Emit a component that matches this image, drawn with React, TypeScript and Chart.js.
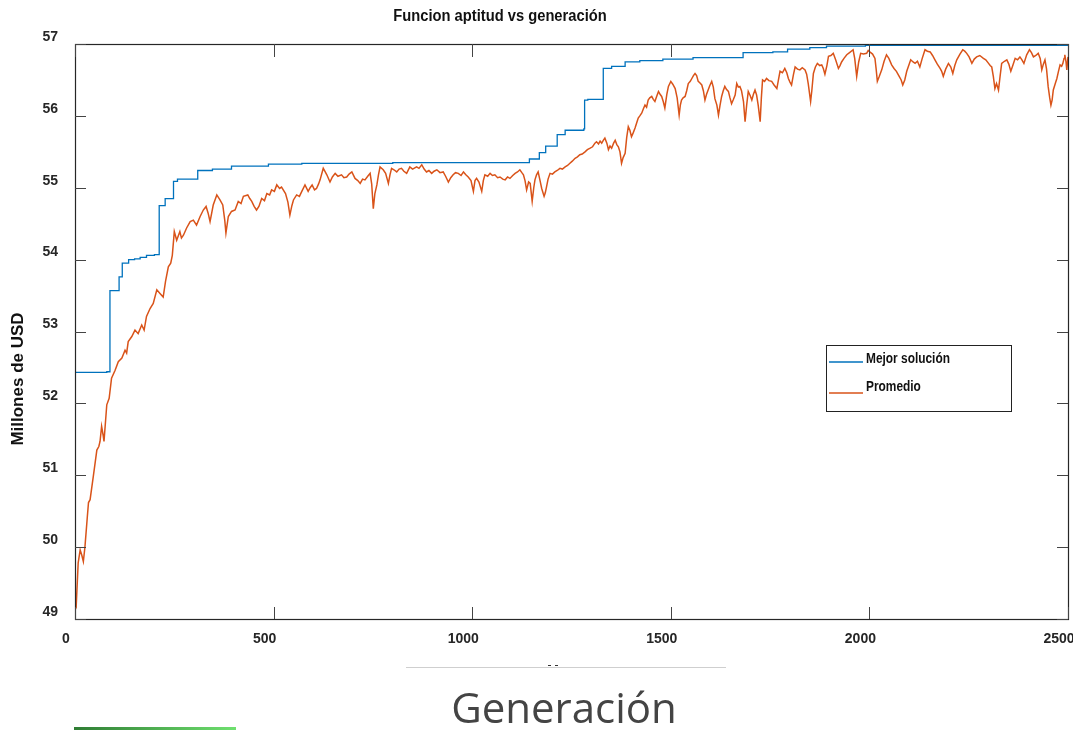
import { useEffect, useRef } from "react";
import { Chart, registerables } from "chart.js";

Chart.register(...registerables);

// ---- text ----
const chartTitle = "Funcion aptitud vs generación";
const yAxisTitle = "Millones de USD";
const xAxisTitle = "Generación";
const seriesNames = ["Mejor solución", "Promedio"];

// ---- axes ----
const xTicks = [0, 500, 1000, 1500, 2000, 2500];
const yTicks = [49, 50, 51, 52, 53, 54, 55, 56, 57];

// ---- best solution per generation: [generation where value changes, value] ----
const mejorSolucion: [number, number][] = [
  [0, 52.43], [40, 52.43], [80, 52.44], [88, 53.57], [111, 53.76], [119, 53.95],
  [135, 54.0], [150, 54.01], [164, 54.03], [180, 54.06], [200, 54.07],
  [212, 54.75], [227, 54.85], [248, 55.09], [258, 55.12], [309, 55.24],
  [346, 55.26], [394, 55.3], [487, 55.33], [571, 55.34], [800, 55.35],
  [1144, 55.4], [1169, 55.49], [1185, 55.58], [1214, 55.74], [1234, 55.8],
  [1281, 55.82], [1283, 56.22], [1291, 56.23], [1330, 56.66], [1351, 56.69],
  [1385, 56.75], [1422, 56.77], [1480, 56.79], [1556, 56.81], [1682, 56.88],
  [1757, 56.89], [1794, 56.93], [1850, 56.95], [1892, 56.97], [1990, 56.98],
  [2500, 56.98],
];

// ---- population average per generation: [generation, value] ----
const promedio: [number, number][] = [
  [0, 49.22], [3, 49.18], [8, 49.78], [13, 49.96], [17, 49.89], [21, 49.8],
  [25, 50.0], [31, 50.42], [34, 50.62], [38, 50.66], [46, 50.98], [55, 51.35],
  [60, 51.4], [63, 51.47], [67, 51.68], [71, 51.55], [73, 51.47], [80, 51.98],
  [86, 52.07], [92, 52.35], [101, 52.46], [109, 52.58], [118, 52.63], [126, 52.74],
  [130, 52.7], [134, 52.86], [143, 52.93], [151, 53.02], [159, 52.97], [168, 53.09],
  [174, 53.02], [180, 53.21], [189, 53.32], [197, 53.39], [206, 53.58], [214, 53.53],
  [222, 53.48], [228, 53.7], [235, 53.9], [241, 53.95], [245, 54.06], [250, 54.39],
  [256, 54.27], [264, 54.39], [268, 54.3], [273, 54.34], [281, 54.44], [290, 54.53],
  [298, 54.55], [306, 54.48], [315, 54.6], [323, 54.69], [330, 54.74], [335, 54.65],
  [340, 54.53], [348, 54.76], [357, 54.9], [365, 54.83], [372, 54.76], [377, 54.55],
  [380, 54.37], [386, 54.6], [394, 54.67], [403, 54.69], [411, 54.81], [418, 54.78],
  [424, 54.88], [435, 54.9], [440, 54.85], [445, 54.81], [451, 54.74], [457, 54.69],
  [463, 54.74], [470, 54.85], [477, 54.82], [483, 54.92], [490, 54.9], [495, 54.97],
  [502, 54.95], [508, 55.04], [515, 54.99], [520, 55.01], [530, 54.92], [536, 54.8],
  [541, 54.62], [546, 54.75], [550, 54.83], [558, 54.9], [565, 54.88], [571, 54.95],
  [579, 55.04], [587, 54.95], [592, 55.0], [597, 55.04], [603, 54.97], [608, 54.99],
  [613, 55.05], [617, 55.11], [625, 55.27], [630, 55.22], [634, 55.18], [642, 55.08],
  [648, 55.15], [655, 55.2], [662, 55.16], [671, 55.18], [677, 55.14], [684, 55.15],
  [690, 55.19], [697, 55.22], [705, 55.13], [712, 55.1], [718, 55.06], [724, 55.12],
  [730, 55.11], [737, 55.16], [743, 55.2], [747, 55.05], [751, 54.71], [755, 54.92],
  [760, 55.04], [764, 55.18], [768, 55.29], [776, 55.25], [782, 55.2], [789, 55.06],
  [793, 55.18], [797, 55.27], [803, 55.25], [810, 55.22], [816, 55.26], [822, 55.27],
  [828, 55.23], [835, 55.2], [843, 55.29], [850, 55.26], [860, 55.29], [866, 55.27],
  [873, 55.32], [879, 55.26], [885, 55.22], [891, 55.24], [898, 55.2], [904, 55.23],
  [911, 55.25], [919, 55.21], [927, 55.22], [933, 55.16], [940, 55.08], [946, 55.14],
  [952, 55.18], [958, 55.21], [965, 55.2], [972, 55.17], [978, 55.22], [984, 55.18],
  [990, 55.15], [997, 55.1], [1003, 54.95], [1007, 55.1], [1011, 55.13], [1017, 55.08],
  [1024, 54.95], [1028, 55.1], [1032, 55.18], [1039, 55.16], [1045, 55.2], [1051, 55.17],
  [1057, 55.18], [1064, 55.14], [1070, 55.15], [1077, 55.12], [1083, 55.11], [1089, 55.15],
  [1095, 55.13], [1102, 55.17], [1108, 55.2], [1114, 55.22], [1120, 55.25], [1125, 55.21],
  [1129, 55.18], [1133, 55.1], [1137, 54.97], [1142, 55.08], [1146, 55.06], [1151, 54.81],
  [1155, 55.0], [1158, 55.11], [1162, 55.18], [1166, 55.22], [1170, 55.12], [1175, 54.99],
  [1181, 54.88], [1184, 54.93], [1187, 55.01], [1191, 55.12], [1196, 55.2], [1202, 55.19],
  [1208, 55.22], [1214, 55.24], [1221, 55.27], [1227, 55.26], [1234, 55.29], [1240, 55.31],
  [1246, 55.34], [1252, 55.37], [1259, 55.41], [1265, 55.43], [1271, 55.46], [1277, 55.47],
  [1284, 55.5], [1290, 55.53], [1297, 55.55], [1303, 55.57], [1309, 55.62], [1313, 55.64],
  [1318, 55.61], [1322, 55.65], [1326, 55.62], [1330, 55.66], [1334, 55.69], [1339, 55.62],
  [1343, 55.53], [1347, 55.58], [1351, 55.55], [1356, 55.62], [1360, 55.66], [1364, 55.6],
  [1368, 55.57], [1372, 55.5], [1376, 55.34], [1380, 55.42], [1385, 55.48], [1389, 55.7],
  [1393, 55.85], [1397, 55.8], [1401, 55.71], [1405, 55.76], [1410, 55.83], [1414, 55.9],
  [1418, 55.97], [1422, 56.0], [1427, 56.04], [1431, 56.1], [1435, 56.15], [1439, 56.12],
  [1443, 56.22], [1447, 56.25], [1452, 56.27], [1456, 56.23], [1460, 56.2], [1465, 56.28],
  [1469, 56.34], [1473, 56.3], [1477, 56.27], [1481, 56.2], [1485, 56.11], [1490, 56.3],
  [1494, 56.41], [1500, 56.48], [1505, 56.44], [1511, 56.38], [1516, 56.25], [1521, 56.01],
  [1524, 56.15], [1527, 56.22], [1531, 56.25], [1536, 56.27], [1540, 56.35], [1544, 56.45],
  [1549, 56.48], [1553, 56.52], [1557, 56.56], [1561, 56.59], [1565, 56.56], [1569, 56.48],
  [1573, 56.46], [1578, 56.43], [1582, 56.35], [1586, 56.22], [1590, 56.3], [1594, 56.36],
  [1598, 56.42], [1603, 56.48], [1607, 56.4], [1611, 56.24], [1616, 56.15], [1620, 56.01],
  [1624, 56.15], [1628, 56.27], [1632, 56.35], [1636, 56.41], [1640, 56.37], [1645, 56.34],
  [1649, 56.25], [1653, 56.17], [1657, 56.22], [1662, 56.29], [1666, 56.45], [1670, 56.4],
  [1674, 56.41], [1678, 56.35], [1683, 56.2], [1687, 55.92], [1691, 56.15], [1695, 56.34],
  [1700, 56.28], [1704, 56.22], [1708, 56.3], [1712, 56.36], [1716, 56.29], [1720, 56.15],
  [1725, 55.92], [1728, 56.25], [1731, 56.5], [1736, 56.48], [1741, 56.52], [1747, 56.49],
  [1754, 56.48], [1760, 56.43], [1767, 56.38], [1771, 56.5], [1775, 56.62], [1781, 56.6],
  [1787, 56.66], [1792, 56.6], [1796, 56.52], [1800, 56.47], [1804, 56.43], [1809, 56.58],
  [1813, 56.68], [1819, 56.65], [1825, 56.64], [1831, 56.67], [1838, 56.64], [1842, 56.58],
  [1846, 56.45], [1852, 56.2], [1855, 56.35], [1859, 56.59], [1864, 56.68], [1869, 56.73],
  [1875, 56.7], [1880, 56.71], [1884, 56.66], [1888, 56.58], [1893, 56.7], [1897, 56.83],
  [1903, 56.84], [1909, 56.87], [1915, 56.78], [1922, 56.66], [1926, 56.7], [1930, 56.75],
  [1936, 56.8], [1943, 56.85], [1950, 56.88], [1959, 56.92], [1963, 56.8], [1968, 56.55],
  [1973, 56.75], [1978, 56.87], [1985, 56.86], [1993, 56.87], [1997, 56.91], [2001, 56.89],
  [2008, 56.86], [2014, 56.8], [2017, 56.65], [2020, 56.48], [2025, 56.55], [2031, 56.64],
  [2037, 56.76], [2043, 56.85], [2049, 56.8], [2056, 56.71], [2062, 56.66], [2068, 56.62],
  [2075, 56.55], [2080, 56.5], [2084, 56.43], [2089, 56.5], [2094, 56.62], [2099, 56.7],
  [2104, 56.78], [2110, 56.75], [2115, 56.73], [2121, 56.76], [2127, 56.68], [2133, 56.8],
  [2140, 56.92], [2146, 56.9], [2153, 56.89], [2159, 56.84], [2165, 56.78], [2171, 56.72],
  [2178, 56.66], [2182, 56.62], [2186, 56.55], [2192, 56.65], [2199, 56.73], [2205, 56.68],
  [2210, 56.59], [2215, 56.7], [2220, 56.78], [2228, 56.86], [2235, 56.92], [2240, 56.9],
  [2245, 56.87], [2251, 56.82], [2258, 56.73], [2264, 56.79], [2270, 56.82], [2278, 56.84],
  [2287, 56.8], [2293, 56.78], [2300, 56.73], [2304, 56.7], [2308, 56.68], [2312, 56.55],
  [2316, 56.38], [2320, 56.45], [2325, 56.36], [2329, 56.55], [2333, 56.73], [2340, 56.76],
  [2346, 56.78], [2351, 56.72], [2356, 56.62], [2361, 56.7], [2367, 56.8], [2373, 56.78],
  [2379, 56.82], [2384, 56.78], [2389, 56.73], [2396, 56.85], [2403, 56.92], [2408, 56.88],
  [2413, 56.82], [2419, 56.84], [2425, 56.87], [2430, 56.8], [2434, 56.64], [2438, 56.72],
  [2442, 56.78], [2446, 56.65], [2450, 56.41], [2454, 56.25], [2457, 56.15], [2460, 56.22],
  [2463, 56.36], [2468, 56.45], [2472, 56.52], [2476, 56.62], [2480, 56.71], [2484, 56.69],
  [2487, 56.73], [2490, 56.8], [2492, 56.85], [2495, 56.75], [2497, 56.64], [2500, 56.82],
];

const BLUE = "#0072BD";
const ORANGE = "#D95319";
const AXIS = "#262626";
const SANS = '"Liberation Sans", Arial, sans-serif';

// Draws text squeezed horizontally to get the condensed look of the labels
function condensedText(ctx: CanvasRenderingContext2D, text: string, x: number, y: number, squeeze: number) {
  ctx.save();
  ctx.translate(x, y);
  ctx.scale(squeeze, 1);
  ctx.fillText(text, 0, 0);
  ctx.restore();
}

// Box, inward ticks on all four sides, legend and the surrounding captions
const decorations = {
  id: "decorations",
  beforeDraw(chart: Chart) {
    const { ctx, width, height } = chart;
    ctx.save();
    ctx.fillStyle = "#ffffff";
    ctx.fillRect(0, 0, width, height);
    ctx.restore();
  },
  afterDraw(chart: Chart) {
    const { ctx, chartArea } = chart;
    const { left, right, top, bottom } = chartArea;
    const xs = chart.scales.x;
    const ys = chart.scales.y;
    ctx.save();

    // axes box
    ctx.strokeStyle = AXIS;
    ctx.lineWidth = 1.2;
    ctx.strokeRect(Math.round(left) + 0.5, Math.round(top) + 0.5, Math.round(right - left), Math.round(bottom - top));

    // inward ticks
    ctx.lineWidth = 1;
    ctx.strokeStyle = "#444";
    ctx.beginPath();
    for (const v of xTicks) {
      const px = Math.round(xs.getPixelForValue(v)) + 0.5;
      ctx.moveTo(px, bottom);
      ctx.lineTo(px, bottom - 12);
      ctx.moveTo(px, top);
      ctx.lineTo(px, top + 13);
    }
    for (const v of yTicks) {
      const py = Math.round(ys.getPixelForValue(v)) + 0.5;
      ctx.moveTo(left, py);
      ctx.lineTo(left + 11, py);
      ctx.moveTo(right, py);
      ctx.lineTo(right - 11, py);
    }
    ctx.stroke();

    // title
    ctx.fillStyle = "#111";
    ctx.font = `bold 16px ${SANS}`;
    ctx.textAlign = "center";
    ctx.textBaseline = "middle";
    condensedText(ctx, chartTitle, 500, 17, 0.92);

    // y axis title
    ctx.save();
    ctx.translate(18, 379);
    ctx.rotate(-Math.PI / 2);
    ctx.font = `bold 17px ${SANS}`;
    ctx.fillStyle = "#111";
    ctx.textAlign = "center";
    ctx.textBaseline = "middle";
    ctx.fillText(yAxisTitle, 0, 0);
    ctx.restore();

    // legend
    const lx = 826, ly = 345, lw = 185, lh = 66;
    ctx.fillStyle = "#fff";
    ctx.fillRect(lx, ly, lw, lh);
    ctx.strokeStyle = "#222";
    ctx.lineWidth = 1;
    ctx.strokeRect(lx + 0.5, ly + 0.5, lw, lh);
    const rowsLine = [362, 393];
    const rowsText = [359, 387];
    chart.data.datasets.forEach((ds, i) => {
      ctx.strokeStyle = ds.borderColor as string;
      ctx.lineWidth = 1.3;
      ctx.beginPath();
      ctx.moveTo(829, rowsLine[i]);
      ctx.lineTo(863, rowsLine[i]);
      ctx.stroke();
      ctx.fillStyle = "#111";
      ctx.font = `bold 14px ${SANS}`;
      ctx.textAlign = "left";
      ctx.textBaseline = "middle";
      condensedText(ctx, ds.label as string, 866, rowsText[i], 0.85);
    });

    // caption under the axis
    ctx.strokeStyle = "#cfcfcf";
    ctx.lineWidth = 1;
    ctx.beginPath();
    ctx.moveTo(406, 667.5);
    ctx.lineTo(726, 667.5);
    ctx.stroke();
    ctx.strokeStyle = "#333";
    ctx.beginPath();
    ctx.moveTo(548, 665.5);
    ctx.lineTo(551, 665.5);
    ctx.moveTo(555, 665.5);
    ctx.lineTo(558, 665.5);
    ctx.stroke();

    ctx.fillStyle = "#444";
    ctx.font = '42px "Open Sans", "Noto Sans", sans-serif';
    ctx.textAlign = "center";
    ctx.textBaseline = "alphabetic";
    ctx.fillText(xAxisTitle, 564, 723);

    const g = ctx.createLinearGradient(74, 0, 236, 0);
    g.addColorStop(0, "#2f7d34");
    g.addColorStop(1, "#6fe06f");
    ctx.fillStyle = g;
    ctx.fillRect(74, 727, 162, 3);

    ctx.restore();
  },
};

export default function App() {
  const canvasRef = useRef<HTMLCanvasElement | null>(null);

  useEffect(() => {
    if (!canvasRef.current) return;
    const chart = new Chart(canvasRef.current, {
      type: "line",
      data: {
        datasets: [
          {
            label: seriesNames[0],
            data: mejorSolucion.map(([x, y]) => ({ x, y })),
            borderColor: BLUE,
            borderWidth: 1.3,
            pointRadius: 0,
            stepped: "before",
            fill: false,
          },
          {
            label: seriesNames[1],
            data: promedio.map(([x, y]) => ({ x, y })),
            borderColor: ORANGE,
            borderWidth: 1.5,
            pointRadius: 0,
            tension: 0,
            fill: false,
          },
        ],
      },
      options: {
        responsive: false,
        animation: false,
        events: [],
        layout: { padding: { top: 44, right: 5, bottom: 0, left: 0 } },
        plugins: {
          legend: { display: false },
          title: { display: false },
          tooltip: { enabled: false },
        },
        scales: {
          x: {
            type: "linear",
            min: 0,
            max: 2500,
            afterBuildTicks: (scale: any) => {
              scale.ticks = xTicks.map((value) => ({ value }));
            },
            afterFit: (scale: any) => {
              scale.height = 111;
              scale.paddingLeft = 0;
              scale.paddingRight = 0;
            },
            grid: { display: false, drawTicks: false },
            border: { display: false },
            ticks: {
              color: AXIS,
              padding: 12,
              labelOffset: -9,
              maxRotation: 0,
              autoSkip: false,
              callback: (v: any) => String(v),
              font: { family: SANS, size: 14, weight: "bold" },
            },
          },
          y: {
            type: "linear",
            min: 49,
            max: 57,
            afterBuildTicks: (scale: any) => {
              scale.ticks = yTicks.map((value) => ({ value }));
            },
            afterFit: (scale: any) => {
              scale.width = 75;
              scale.paddingTop = 0;
              scale.paddingBottom = 0;
            },
            grid: { display: false, drawTicks: false },
            border: { display: false },
            ticks: {
              color: AXIS,
              padding: 17,
              labelOffset: -7,
              autoSkip: false,
              callback: (v: any) => String(v),
              font: { family: SANS, size: 14, weight: "bold" },
            },
          },
        },
      },
      plugins: [decorations],
    });
    return () => chart.destroy();
  }, []);

  return (
    <div style={{ position: "absolute", left: 0, top: 0, width: 1073, height: 730 }}>
      <canvas ref={canvasRef} width={1073} height={730} />
    </div>
  );
}
